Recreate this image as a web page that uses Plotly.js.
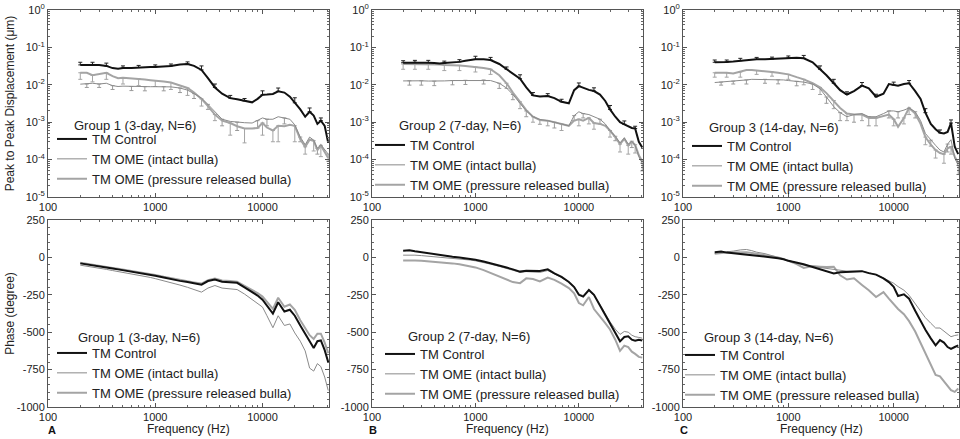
<!DOCTYPE html>
<html><head><meta charset="utf-8">
<script src="https://cdn.plot.ly/plotly-3.0.1.min.js"></script>
<style>html,body{margin:0;padding:0;background:#fff}#chart{width:960px;height:439px}</style>
</head><body><div id="chart"></div>
<script>
// ---------- data ----------
const freq = [200,230,260,300,350, 400,450,500,600,700, 800,900,1000,1200,1400, 1700,2000,2300,2700,3100, 3600,4200,5000,5800,6800, 8000,9000,10000,11000,12500, 14000,16000,18000,20000,22500, 25000,27500,30000,32500,35000, 38000,41000];

const groupTitles = ['Group 1 (3-day, N=6)', 'Group 2 (7-day, N=6)', 'Group 3 (14-day, N=6)'];
const seriesNames = ['TM Control', 'TM OME (intact bulla)', 'TM OME (pressure released bulla)'];
const panelLabels = ['A', 'B', 'C'];
const xTitle = 'Frequency (Hz)';
const xTickVals = [100, 1000, 10000];
const xTickText = ['100', '1000', '10000'];
const dispTickVals = [1e-5, 1e-4, 1e-3, 1e-2, 1e-1, 1];
const dispTickText = ['10<sup>-5</sup>', '10<sup>-4</sup>', '10<sup>-3</sup>', '10<sup>-2</sup>', '10<sup>-1</sup>', '10<sup>0</sup>'];
const phaseTickVals = [-1000, -750, -500, -250, 0, 250];
const phaseTickText = ['-1000', '-750', '-500', '-250', '0', '250'];

// Group 1 displacement (um)
const g1DispControl = [0.034,0.034,0.035,0.034,0.032, 0.028,0.027,0.028,0.028,0.029, 0.029,0.030,0.030,0.031,0.032, 0.035,0.036,0.032,0.025,0.015, 0.0085,0.0058,0.0044,0.0041,0.0037, 0.0034,0.0042,0.0054,0.0055,0.0057, 0.0067,0.0062,0.0048,0.0033,0.0022, 0.0014,0.0019,0.0015,0.0009,0.0011, 0.0008,0.00028];
const g1DispIntact = [0.0104,0.0105,0.011,0.0105,0.011, 0.0095,0.009,0.0092,0.009,0.009, 0.0089,0.0089,0.0089,0.0089,0.0088, 0.0082,0.0072,0.0058,0.0044,0.003, 0.0019,0.0012,0.00105,0.001,0.00097, 0.00095,0.0011,0.0013,0.0012,0.0012, 0.0014,0.0013,0.0012,0.00085,0.0004, 0.00025,0.0004,0.00033,0.0002,0.00025, 0.00018,0.00014];
const g1DispPressure = [0.021,0.021,0.018,0.019,0.021, 0.017,0.015,0.0155,0.015,0.0145, 0.0138,0.0133,0.013,0.0122,0.0115, 0.0095,0.0082,0.0062,0.0042,0.0027, 0.0016,0.0011,0.00095,0.00078,0.00068, 0.00068,0.0007,0.00095,0.00072,0.0006, 0.0008,0.00078,0.00085,0.0008,0.00035, 0.00022,0.00034,0.00032,0.00018,0.00024, 0.00016,0.00011];
const g1DispControlErr = [0.006,null,0.005,null,0.006, null,null,0.004,null,0.004, null,null,0.004,null,0.004, null,0.005,null,0.007,null, 0.002,null,0.0008,null,0.0006, null,null,0.0015,null,null, 0.0015,null,null,0.0012,null, null,0.0005,null,null,0.0002, null,null];
const g1DispIntactErr = [null,0.002,null,0.002,null, 0.002,null,null,0.002,null, 0.002,null,null,0.002,null, 0.002,null,0.0015,null,0.0008, null,0.0004,null,0.0004,null, null,0.0004,null,0.0004,null, null,0.0004,null,null,0.0001, null,null,null,0.00006,null, null,0.00005];
const g1DispPressureErr = [0.007,null,0.006,null,0.007, null,null,0.005,null,0.005, null,null,0.004,null,0.004, null,0.003,null,0.0015,null, 0.0005,null,0.0005,null,0.0004, null,null,0.0005,null,0.0003, 0.0005,null,null,0.0005,null, 0.00008,null,0.00015,null,0.00012, null,null];

// Group 2 displacement (um)
const g2DispControl = [0.039,0.039,0.040,0.039,0.039, 0.038,0.037,0.038,0.039,0.041, 0.044,0.047,0.048,0.048,0.046, 0.036,0.026,0.02,0.0145,0.0085, 0.0052,0.0049,0.005,0.0044,0.0035, 0.0032,0.0072,0.0092,0.0082,0.0073, 0.0068,0.0055,0.0037,0.0022,0.0014, 0.001,0.00088,0.00078,0.0007,0.00068, 0.0003,0.00021];
const g2DispIntact = [0.0127,0.0128,0.013,0.0128,0.0126, 0.0125,0.0125,0.0127,0.013,0.013, 0.0132,0.0133,0.0135,0.0135,0.013, 0.011,0.0082,0.0055,0.0033,0.002, 0.0014,0.00118,0.0011,0.001,0.0009, 0.0008,0.0015,0.0019,0.0017,0.0016, 0.0014,0.0012,0.0009,0.0006,0.00042, 0.00028,0.00038,0.00026,0.00031,0.00024, 0.00012,0.00008];
const g2DispPressure = [0.036,0.036,0.036,0.036,0.036, 0.035,0.035,0.034,0.034,0.033, 0.032,0.031,0.030,0.028,0.026, 0.018,0.011,0.0062,0.0035,0.0021, 0.0014,0.00115,0.0011,0.001,0.0009, 0.0008,0.0011,0.0012,0.0011,0.0013, 0.00095,0.0009,0.0008,0.0006,0.0004, 0.00026,0.00036,0.00024,0.0003,0.00025, 0.00013,0.00009];
const g2DispControlErr = [0.005,null,0.005,null,0.006, null,null,0.005,null,0.006, null,null,0.01,null,0.008, null,0.004,null,0.004,null, 0.001,null,0.0008,null,0.0006, null,null,0.002,null,null, 0.0015,null,null,0.0006,null, null,0.0002,null,null,0.0001, null,null];
const g2DispIntactErr = [null,0.003,null,0.003,null, 0.003,null,null,0.003,null, 0.003,null,null,0.003,null, 0.003,null,0.0015,null,0.0006, null,0.0003,null,0.0003,null, null,0.0004,null,0.0004,null, null,0.0003,null,null,0.0001, null,null,null,0.0001,null, null,0.00003];
const g2DispPressureErr = [0.01,null,0.01,null,0.01, null,null,0.01,null,0.009, null,null,0.008,null,0.007, null,0.003,null,0.0012,null, 0.0004,null,0.0003,null,0.0003, null,null,0.0004,null,0.0004, 0.0003,null,null,0.0002,null, 0.0001,null,0.0001,null,0.0001, null,null];

// Group 3 displacement (um)
const g3DispControl = [0.040,0.040,0.041,0.042,0.044, 0.046,0.048,0.048,0.048,0.049, 0.050,0.051,0.052,0.053,0.051, 0.040,0.026,0.018,0.011,0.0072, 0.0055,0.0068,0.0095,0.008,0.0048, 0.0058,0.0105,0.0098,0.0095,0.0105, 0.011,0.0068,0.0042,0.0018,0.0009, 0.00065,0.00052,0.0005,0.00055,0.00095, 0.00022,0.00014];
const g3DispIntact = [0.0115,0.0118,0.012,0.0125,0.013, 0.0135,0.014,0.014,0.014,0.0138, 0.0136,0.0135,0.013,0.0124,0.0118, 0.0105,0.0078,0.0047,0.0026,0.0018, 0.0014,0.0016,0.0017,0.0014,0.0014, 0.0017,0.002,0.002,0.0019,0.0021, 0.0024,0.0019,0.0011,0.0005,0.00033, 0.00024,0.00018,0.00016,0.00026,0.00034, 0.00011,0.00007];
const g3DispPressure = [0.021,0.021,0.021,0.02,0.022, 0.025,0.025,0.024,0.023,0.022, 0.021,0.020,0.019,0.016,0.014, 0.011,0.0085,0.006,0.0038,0.0024, 0.0017,0.0016,0.0016,0.0013,0.0013, 0.0015,0.0016,0.0012,0.00075,0.0013, 0.0024,0.0017,0.0009,0.0004,0.00025, 0.00018,0.00015,0.00014,0.0002,0.00022, 0.00012,0.00008];
const g3DispControlErr = [0.006,null,0.005,null,0.007, null,null,0.006,null,0.006, null,null,0.007,null,0.01, null,0.006,null,0.003,null, 0.001,null,0.002,null,0.0008, null,null,0.002,null,null, 0.002,null,null,0.0005,null, null,0.0001,null,null,0.0002, null,null];
const g3DispIntactErr = [null,0.002,null,0.002,null, 0.003,null,null,0.003,null, 0.003,null,null,0.003,null, 0.003,null,0.0015,null,0.0007, null,0.0006,null,0.0006,null, null,0.0007,null,0.0006,null, null,0.0006,null,null,0.0001, null,null,null,0.0001,null, null,0.00003];
const g3DispPressureErr = [0.005,null,0.005,null,0.006, null,null,0.005,null,0.005, null,null,0.005,null,0.004, null,0.003,null,0.0015,null, 0.0006,null,0.0005,null,0.0005, null,null,0.0004,null,0.0004, 0.0008,null,null,0.00015,null, 0.00007,null,0.00006,null,0.00008, null,null];

// Phase (degree)
const g1PhaseControl = [-40,-46,-52,-58,-66, -74,-80,-85,-93,-101, -108,-115,-122,-134,-145, -157,-165,-172,-182,-158, -148,-163,-165,-170,-200, -232,-255,-283,-320,-375, -300,-362,-350,-390,-455, -510,-565,-605,-560,-555, -620,-700];
const g1PhaseIntact = [-52,-58,-64,-72,-80, -88,-94,-100,-109,-118, -126,-134,-142,-155,-168, -185,-200,-213,-232,-205, -188,-205,-210,-215,-245, -282,-310,-332,-390,-470, -390,-455,-445,-505,-560, -625,-740,-760,-710,-730, -800,-890];
const g1PhasePressure = [-36,-42,-48,-54,-62, -70,-76,-81,-89,-97, -104,-111,-118,-130,-140, -152,-160,-167,-175,-152, -142,-155,-158,-163,-190, -215,-238,-262,-300,-345, -270,-330,-315,-350,-420, -470,-520,-545,-510,-510, -570,-640];
const g2PhaseControl = [45,48,41,34,27, 20,15,11,5,0, -5,-10,-16,-28,-39, -55,-68,-80,-95,-89, -89,-91,-80,-107,-130, -164,-198,-250,-262,-218, -250,-323,-391,-448,-509, -561,-532,-527,-550,-557, -550,-555];
const g2PhaseIntact = [15,17,15,12,8, 5,2,0,-4,-8, -13,-18,-23,-33,-45, -60,-75,-88,-100,-95, -97,-100,-88,-110,-135, -165,-195,-245,-255,-218, -255,-315,-380,-430,-480, -515,-495,-500,-520,-530, -535,-540];
const g2PhasePressure = [-20,-18,-20,-22,-25, -28,-31,-34,-40,-46, -53,-60,-67,-85,-105, -130,-150,-165,-172,-140, -145,-160,-135,-150,-175, -205,-240,-305,-320,-265, -345,-392,-440,-482,-550, -625,-590,-600,-630,-645, -665,-670];
const g3PhaseControl = [35,39,32,28,23, 18,15,12,6,0, -6,-12,-23,-35,-46, -64,-81,-95,-108,-100, -97,-95,-92,-105,-115, -140,-165,-196,-258,-247, -276,-357,-426,-484,-541, -588,-553,-569,-599,-611, -599,-588];
const g3PhaseIntact = [28,32,36,42,50, 53,45,35,25,12, 2,-8,-18,-36,-53, -62,-69,-75,-80,-86, -92,-92,-92,-103,-115, -138,-155,-173,-195,-219, -253,-311,-360,-403,-440, -472,-472,-495,-510,-530, -522,-518];
const g3PhasePressure = [25,30,32,33,34, 35,30,25,18,10, 0,-10,-23,-45,-70, -58,-62,-65,-62,-120, -148,-140,-184,-220,-265, -232,-275,-311,-345,-380, -426,-495,-570,-634,-720, -785,-795,-829,-860,-887, -899,-876];

// ---------- build ----------
const FONT = 'Liberation Sans, Arial, Helvetica, sans-serif';
const groups = [
  {disp:[g1DispControl,g1DispIntact,g1DispPressure], err:[g1DispControlErr,g1DispIntactErr,g1DispPressureErr], phase:[g1PhaseControl,g1PhaseIntact,g1PhasePressure]},
  {disp:[g2DispControl,g2DispIntact,g2DispPressure], err:[g2DispControlErr,g2DispIntactErr,g2DispPressureErr], phase:[g2PhaseControl,g2PhaseIntact,g2PhasePressure]},
  {disp:[g3DispControl,g3DispIntact,g3DispPressure], err:[g3DispControlErr,g3DispIntactErr,g3DispPressureErr], phase:[g3PhaseControl,g3PhaseIntact,g3PhasePressure]}
];
const styles = [
  {color:'#111111', width:2, errColor:'#222222', up:true},
  {color:'#8a8a8a', width:1, errColor:'#9a9a9a', up:false},
  {color:'#a4a4a4', width:2, errColor:'#a4a4a4', up:false}
];
const xDomains = [[48/960, 329/960], [372/960, 643/960], [683/960, 959/960]];
const yTop = [1 - 197/439, 1 - 10/439];
const yBot = [1 - 407/439, 1 - 220/439];
// legend placement [left px, top px]
const legTop = [[52,124],[370,130],[687,131]];
const legBot = [[52,338],[380,339],[680,340]];
const titleTop = [[72,126],[397,126],[707,127]];
const titleBot = [[76,337],[406,336],[702,337]];
const labelPos = [[52,430],[373,430],[684,430]];

const traces = [];
const layout = {
  width: 960, height: 439,
  margin: {l:0, r:0, t:0, b:0},
  paper_bgcolor: '#fff', plot_bgcolor: '#fff',
  font: {family: FONT, size: 11, color: '#222'},
  showlegend: true,
  annotations: []
};

function baseAxis() {
  return {showline:true, linecolor:'#555', linewidth:1, mirror:'ticks', ticks:'inside', ticklen:4,
    tickcolor:'#555', showgrid:false, zeroline:false, tickfont:{family:FONT, size:11, color:'#222'}};
}
function xAxis(p, k) {
  const a = baseAxis();
  Object.assign(a, {type:'log', range:[2, 4.62], domain:xDomains[p], anchor: k===1?'y':'y'+k,
    tickmode:'array', tickvals:xTickVals, ticktext:xTickText,
    minor:{dtick:'D1', ticks:'inside', ticklen:2, tickcolor:'#666', showgrid:false}});
  return a;
}

for (let p = 0; p < 3; p++) {
  const kt = p + 1, kb = p + 4;
  const xt = kt===1?'x':'x'+kt, yt = kt===1?'y':'y'+kt;
  const xb = 'x'+kb, yb = 'y'+kb;
  const legT = p===0 ? 'legend' : 'legend'+(p+1);
  const legB = 'legend'+(p+4);
  // error bars (top)
  for (let s = 2; s >= 0; s--) {
    const st = styles[s];
    const e = groups[p].err[s].map(v => v == null ? NaN : v);
    const z = groups[p].err[s].map(v => v == null ? NaN : 0);
    traces.push({x:freq, y:groups[p].disp[s], xaxis:xt, yaxis:yt, mode:'markers',
      marker:{size:1, color:'rgba(0,0,0,0)'}, showlegend:false, hoverinfo:'skip',
      error_y:{type:'data', symmetric:false, array: st.up ? e : z, arrayminus: st.up ? z : e,
        color:st.errColor, thickness:1, width:2}});
  }
  for (let s = 2; s >= 0; s--) {
    const st = styles[s];
    traces.push({x:freq, y:groups[p].disp[s], xaxis:xt, yaxis:yt, mode:'lines', name:seriesNames[s],
      line:{color:st.color, width:st.width}, legend:legT, legendrank:s+1});
    traces.push({x:freq, y:groups[p].phase[s], xaxis:xb, yaxis:yb, mode:'lines', name:seriesNames[s],
      line:{color:st.color, width:st.width}, legend:legB, legendrank:s+1});
  }
  // axes
  layout[kt===1?'xaxis':'xaxis'+kt] = xAxis(p, kt);
  layout['xaxis'+kb] = xAxis(p, kb);
  const ya = baseAxis();
  Object.assign(ya, {type:'log', range:[-5, 0], domain:yTop, anchor:xt, tickmode:'array',
    tickvals:dispTickVals, ticktext:dispTickText,
    minor:{dtick:'D1', ticks:'inside', ticklen:2, tickcolor:'#666', showgrid:false}});
  if (p === 0) ya.title = {text:'Peak to Peak Displacement (μm)', font:{family:FONT, size:12, color:'#222'}};
  layout[kt===1?'yaxis':'yaxis'+kt] = ya;
  const yb2 = baseAxis();
  Object.assign(yb2, {range:[-1000, 250], domain:yBot, anchor:xb, tickmode:'array',
    tickvals:phaseTickVals, ticktext:phaseTickText,
    minor:{dtick:50, ticks:'inside', ticklen:2, tickcolor:'#666', showgrid:false}});
  if (p === 0) yb2.title = {text:'Phase (degree)', font:{family:FONT, size:12, color:'#222'}};
  layout['yaxis'+kb] = yb2;
  // legends
  const legStyle = (pos) => ({x:pos[0]/960, y:1-pos[1]/439, xanchor:'left', yanchor:'top',
    bgcolor:'rgba(0,0,0,0)', borderwidth:0, itemwidth:30, tracegroupgap:0,
    font:{family:FONT, size:13, color:'#222'}});
  layout[legT] = legStyle(legTop[p]);
  layout[legB] = legStyle(legBot[p]);
  // group titles, x-axis titles & panel labels
  layout.annotations.push({xref:'paper', yref:'paper', x:titleTop[p][0]/960, y:1-titleTop[p][1]/439,
    xanchor:'left', yanchor:'middle', showarrow:false, text:groupTitles[p], font:{family:FONT, size:13, color:'#222'}});
  layout.annotations.push({xref:'paper', yref:'paper', x:titleBot[p][0]/960, y:1-titleBot[p][1]/439,
    xanchor:'left', yanchor:'middle', showarrow:false, text:groupTitles[p], font:{family:FONT, size:13, color:'#222'}});
  layout.annotations.push({xref:'paper', yref:'paper', x:(xDomains[p][0]+xDomains[p][1])/2, y:1-429/439,
    xanchor:'center', yanchor:'middle', showarrow:false, text:xTitle, font:{family:FONT, size:12, color:'#222'}});
  layout.annotations.push({xref:'paper', yref:'paper', x:labelPos[p][0]/960, y:1-labelPos[p][1]/439,
    xanchor:'center', yanchor:'middle', showarrow:false, text:'<b>'+panelLabels[p]+'</b>', font:{family:FONT, size:11, color:'#111'}});
}

Plotly.newPlot('chart', traces, layout, {staticPlot:true, displayModeBar:false});
</script>
</body></html>
